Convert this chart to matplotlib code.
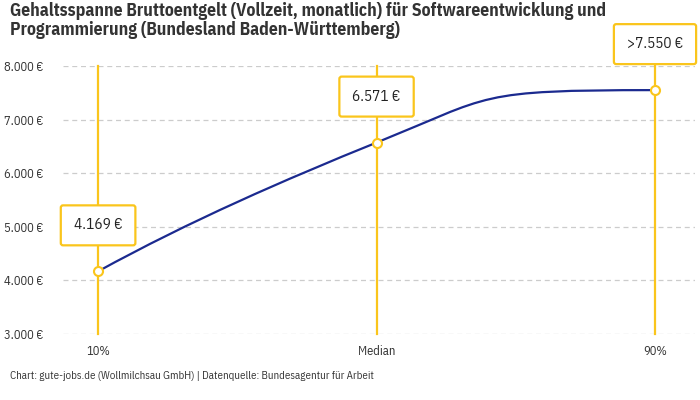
import matplotlib.pyplot as plt
from matplotlib.path import Path
from matplotlib.patches import PathPatch
from matplotlib import font_manager

# Daten
labels = ["10%", "Median", "90%"]
werte = [4169, 6571, 7550]
box_texte = ["4.169 €", "6.571 €", ">7.550 €"]
y_ticks = [3000, 4000, 5000, 6000, 7000, 8000]
y_tick_labels = ["3.000 €", "4.000 €", "5.000 €", "6.000 €", "7.000 €", "8.000 €"]

titel = ("Gehaltsspanne Bruttoentgelt (Vollzeit, monatlich) für Softwareentwicklung und\n"
         "Programmierung (Bundesland Baden-Württemberg)")
quelle = "Chart: gute-jobs.de (Wollmilchsau GmbH) | Datenquelle: Bundesagentur für Arbeit"

GELB = "#FAC51C"
BLAU = "#1B2A8F"
TEXT = "#333333"

# schmale Schrift, falls vorhanden
namen = {f.name for f in font_manager.fontManager.ttflist}
kandidaten = ["IBM Plex Sans Condensed", "Roboto Condensed", "Barlow Semi Condensed",
              "Liberation Sans Narrow", "Archivo Narrow"]
schrift = next((k for k in kandidaten if k in namen), "DejaVu Sans")
plt.rcParams["font.family"] = [schrift, "DejaVu Sans"]

fig = plt.figure(figsize=(7, 4), dpi=100)
ax = fig.add_axes([0.09, 0.165, 0.903, 0.67])

x = list(range(len(werte)))
ax.set_xlim(-0.126, 2.144)
ax.set_ylim(3000, 8000)

# Gitter
for yt in y_ticks:
    ax.axhline(yt, color="#cccccc", lw=0.9, ls=(0, (4, 3)), zorder=0)

# senkrechte Linien
for xi in x:
    ax.plot([xi, xi], [3000, 8000], color=GELB, lw=1.6, zorder=1, clip_on=False)

# geglättete Kurve (kubische Bezier-Segmente)
steigung = [2850, 2100, 0]
griff_aus = [0.33, 0.42]
griff_ein = [0.33, 0.65]
verts = [(x[0], werte[0])]
codes = [Path.MOVETO]
for i in range(len(werte) - 1):
    dx = x[i + 1] - x[i]
    p1 = (x[i] + griff_aus[i] * dx, werte[i] + griff_aus[i] * dx * steigung[i])
    p2 = (x[i + 1] - griff_ein[i] * dx, werte[i + 1] - griff_ein[i] * dx * steigung[i + 1])
    verts += [p1, p2, (x[i + 1], werte[i + 1])]
    codes += [Path.CURVE4] * 3
ax.add_patch(PathPatch(Path(verts, codes), facecolor="none", edgecolor=BLAU, lw=1.6, zorder=2))

ax.plot(x, werte, ls="none", marker="o", ms=6.5, mfc="white", mec=GELB, mew=1.5, zorder=3, clip_on=False)

# Beschriftungskästen
for xi, w, t in zip(x, werte, box_texte):
    ax.annotate(t, (xi, w), xytext=(0, 46), textcoords="offset pixels",
                ha="center", va="center", fontsize=11, color="#222222", zorder=4,
                annotation_clip=False,
                bbox=dict(boxstyle="round,pad=0.85,rounding_size=0.15", fc="white", ec=GELB, lw=1.6))

ax.set_yticks(y_ticks)
ax.set_yticklabels(y_tick_labels, fontsize=9, color=TEXT)
ax.set_xticks(x)
ax.set_xticklabels(labels, fontsize=9, color=TEXT)
ax.tick_params(axis="y", length=0, pad=14)
ax.tick_params(axis="x", length=0, pad=8)
for s in ax.spines.values():
    s.set_visible(False)

fig.text(0.014, 0.995, titel, ha="left", va="top", fontsize=12.7, fontweight="bold", color="#333333",
         linespacing=1.1)
fig.text(0.014, 0.06, quelle, ha="left", va="center", fontsize=7.8, color=TEXT)

fig.savefig("out.png", dpi=100)
